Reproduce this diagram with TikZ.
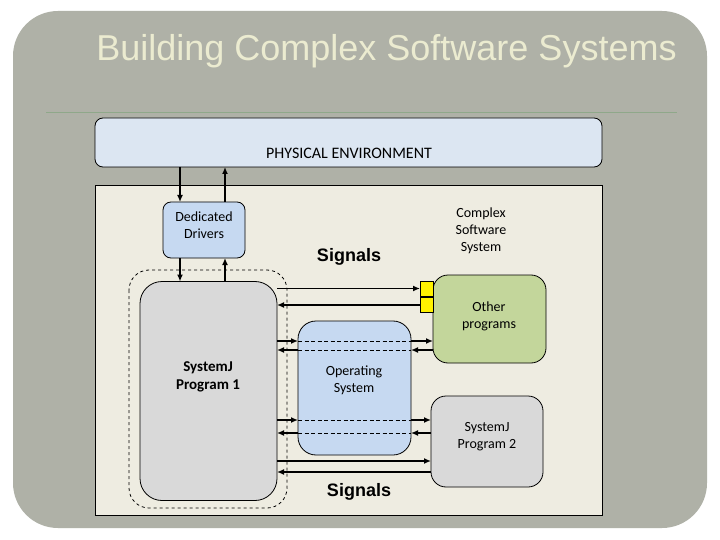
\documentclass[tikz,border=0pt]{standalone}
\usepackage{fontspec}
\setmainfont{Carlito}
\newfontfamily\titlefont{Liberation Sans}
\usetikzlibrary{arrows.meta,calc}
\definecolor{slidegray}{HTML}{AFB1A7}
\definecolor{titlecol}{HTML}{EBEBD0}
\definecolor{rulecol}{HTML}{8FA88A}
\definecolor{panelcol}{HTML}{EEECE1}
\definecolor{pecol}{HTML}{DCE6F2}
\definecolor{bluebox}{HTML}{C6D9F1}
\definecolor{greenbox}{HTML}{C3D69B}
\definecolor{graybox}{HTML}{D9D9D9}
\tikzset{
  boxbase/.style={draw=black, line width=0.8pt, inner sep=0pt, outer sep=0pt},
  sig/.style={line width=1.9pt, -{Latex[length=7pt,width=6pt]}},
  dashbox/.style={draw=black, line width=0.8pt, dash pattern=on 3pt off 3pt},
  label/.style={inner sep=0pt, align=center, font=\fontsize{14}{17}\selectfont},
  biglabel/.style={inner sep=0pt, font=\titlefont\bfseries\fontsize{18}{20}\selectfont}
}
\begin{document}
\begin{tikzpicture}[x=1pt,y=-1pt]
\useasboundingbox (0,0) rectangle (720,540);
\fill[white] (0,0) rectangle (720,540);
% slide background
\fill[slidegray, rounded corners=45pt] (13,11) rectangle (707,528);
\node[inner sep=0pt, text=titlecol, font=\titlefont\fontsize{36}{40}\selectfont, anchor=base] (title) at (386.5,61) {Building Complex Software Systems};
\draw[rulecol, line width=0.8pt] (46,112) -- (677,112);
% physical environment
\node[boxbase, fill=pecol, rounded corners=8pt, minimum width=507pt, minimum height=49pt] (pe) at (348.5,142.5) {};
\node[label, font=\fontsize{16}{18}\selectfont] (petext) at (349,153) {PHYSICAL ENVIRONMENT};
% panel
\node[draw=black, line width=0.8pt, fill=panelcol, inner sep=0pt, outer sep=0pt, minimum width=507pt, minimum height=330pt] (panel) at (348.5,350) {};
% dedicated drivers
\node[boxbase, fill=bluebox, rounded corners=8pt, minimum width=82pt, minimum height=56pt] (dd) at (204,230) {};
\node[label] (ddtext) at (204,225) {Dedicated\\Drivers};
\node[biglabel] (sig1) at (349,257) {Signals};
\node[label] (css) at (481,231) {Complex\\Software\\System};
% dashed envelope
\draw[dashbox, rounded corners=20pt] (129,270) rectangle (287,508);
% SystemJ program 1
\node[boxbase, fill=graybox, rounded corners=22pt, minimum width=137pt, minimum height=219pt] (sj1) at (208.5,391) {};
\node[label, font=\bfseries\fontsize{15}{18}\selectfont] (sj1text) at (208,377) {SystemJ\\Program 1};
% other programs
\node[boxbase, fill=greenbox, rounded corners=15pt, minimum width=113pt, minimum height=88pt] (other) at (489.5,319) {};
\node[label] (othertext) at (489,316) {Other\\programs};
\node[boxbase, fill=yellow, minimum width=13pt, minimum height=15pt] (y1) at (426.5,288.5) {};
\node[boxbase, fill=yellow, minimum width=13pt, minimum height=15pt] (y2) at (426.5,305) {};
% operating system
\node[boxbase, fill=bluebox, rounded corners=18pt, minimum width=113pt, minimum height=134pt] (os) at (354.5,388) {};
\node[label] (ostext) at (354,380) {Operating\\System};
% systemj program 2
\node[boxbase, fill=graybox, rounded corners=15pt, minimum width=112pt, minimum height=91pt] (sj2) at (487,441.5) {};
\node[label] (sj2text) at (487,437) {SystemJ\\Program 2};
\node[biglabel] (sig2) at (359,492) {Signals};
% level coordinates
\coordinate (xa) at (180,0);
\coordinate (xb) at (225,0);
\coordinate (r1) at (0,341);
\coordinate (r2) at (0,350);
\coordinate (r3) at (0,420);
\coordinate (r4) at (0,433);
\coordinate (r5) at (0,461);
\coordinate (r6) at (0,472);
% vertical arrows
\draw[sig] (pe.south -| xa) -- (dd.north -| xa);
\draw[sig] (dd.north -| xb) -- (pe.south -| xb);
\draw[sig] (dd.south -| xa) -- (sj1.north -| xa);
\draw[sig] (sj1.north -| xb) -- (dd.south -| xb);
% signals to other programs (yellow ports)
\draw[sig] (sj1.east |- y1.west) -- (y1.west);
\draw[sig] (y2.west) -- (sj1.east |- y2.west);
% dashed lines in OS
\draw[line width=0.8pt, dash pattern=on 4pt off 2.5pt] (os.west |- r1) -- (os.east |- r1);
\draw[line width=0.8pt, dash pattern=on 4pt off 2.5pt] (os.west |- r2) -- (os.east |- r2);
\draw[line width=0.8pt, dash pattern=on 4pt off 2.5pt] (os.west |- r3) -- (os.east |- r3);
\draw[line width=0.8pt, dash pattern=on 4pt off 2.5pt] (os.west |- r4) -- (os.east |- r4);
% via OS
\draw[sig] (sj1.east |- r1) -- (os.west |- r1);
\draw[sig] (os.west |- r2) -- (sj1.east |- r2);
\draw[sig] (os.east |- r1) -- (other.west |- r1);
\draw[sig] (other.west |- r2) -- (os.east |- r2);
\draw[sig] (sj1.east |- r3) -- (os.west |- r3);
\draw[sig] (os.west |- r4) -- (sj1.east |- r4);
\draw[sig] (os.east |- r3) -- (sj2.west |- r3);
\draw[sig] (sj2.west |- r4) -- (os.east |- r4);
% direct to program 2
\draw[sig] (sj1.east |- r5) -- (sj2.west |- r5);
\draw[sig] (sj2.west |- r6) -- (sj1.east |- r6);
\end{tikzpicture}
\end{document}
